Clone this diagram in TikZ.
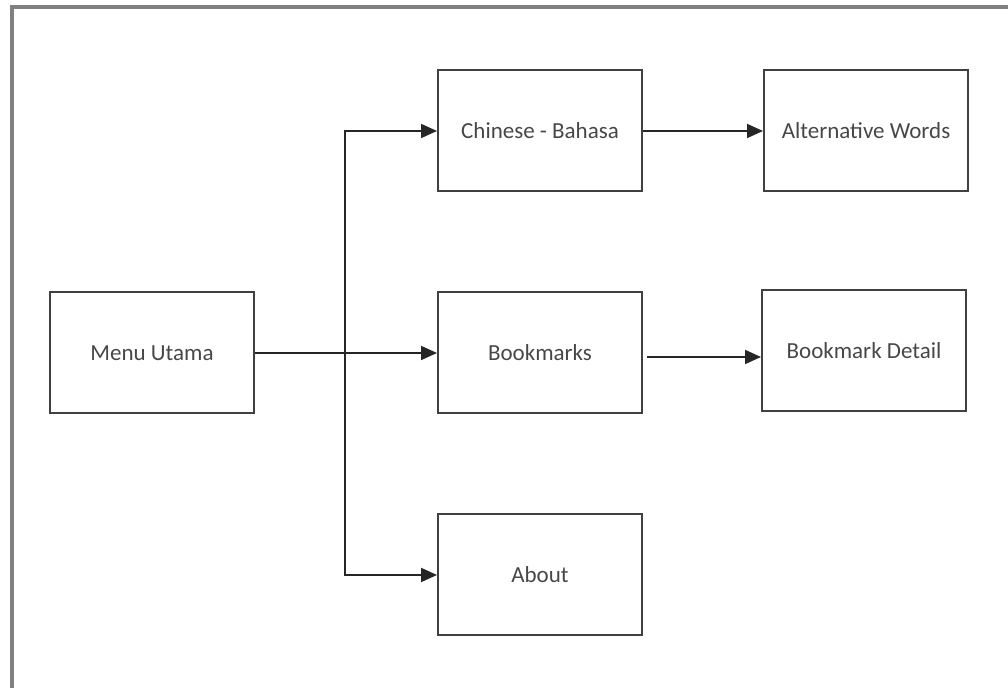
\documentclass[tikz,border=0pt]{standalone}
\usepackage{fontspec}
\setmainfont{Carlito}
\usetikzlibrary{positioning, arrows.meta}

\begin{document}
\begin{tikzpicture}[x=0.5pt, y=-0.5pt, font=\fontsize{11.5}{13}\selectfont, >={Triangle[length=8pt,width=7pt]},
    box/.style={draw=black!75, line width=1pt, minimum width=102pt, minimum height=60.5pt,
                text=black!72, inner sep=0pt},
    link/.style={->, draw=black!85, line width=0.9pt}]

    % --- frame ---
    \useasboundingbox (0,0) rectangle (1008,688);
    \draw[black!50, line width=1.6pt] (12,688) -- (12,7) -- (1008,7);

    % --- menu boxes ---
    \node[box] (menu)      at (152,353) {Menu Utama};
    \node[box] (chinese)   at (540,131) {Chinese - Bahasa};
    \node[box] (bookmarks) at (540,353) {Bookmarks};
    \node[box] (about)     at (540,575) {About};
    \node[box] (alt)       at (866,131) {Alternative Words};
    \node[box] (detail)    at (864,351) {Bookmark Detail};

    % --- links from the main menu ---
    \coordinate (split) at (345,353);
    \draw[link] (menu) -- (bookmarks);
    \draw[link] (split) |- (chinese);
    \draw[link] (split) |- (about);

    % --- second level ---
    \draw[link] (chinese) -- (alt);
    \draw[link] ([xshift=2pt, yshift=-2pt]bookmarks.east) -- ([yshift=-2pt]bookmarks.east -| detail.west);
\end{tikzpicture}
\end{document}
